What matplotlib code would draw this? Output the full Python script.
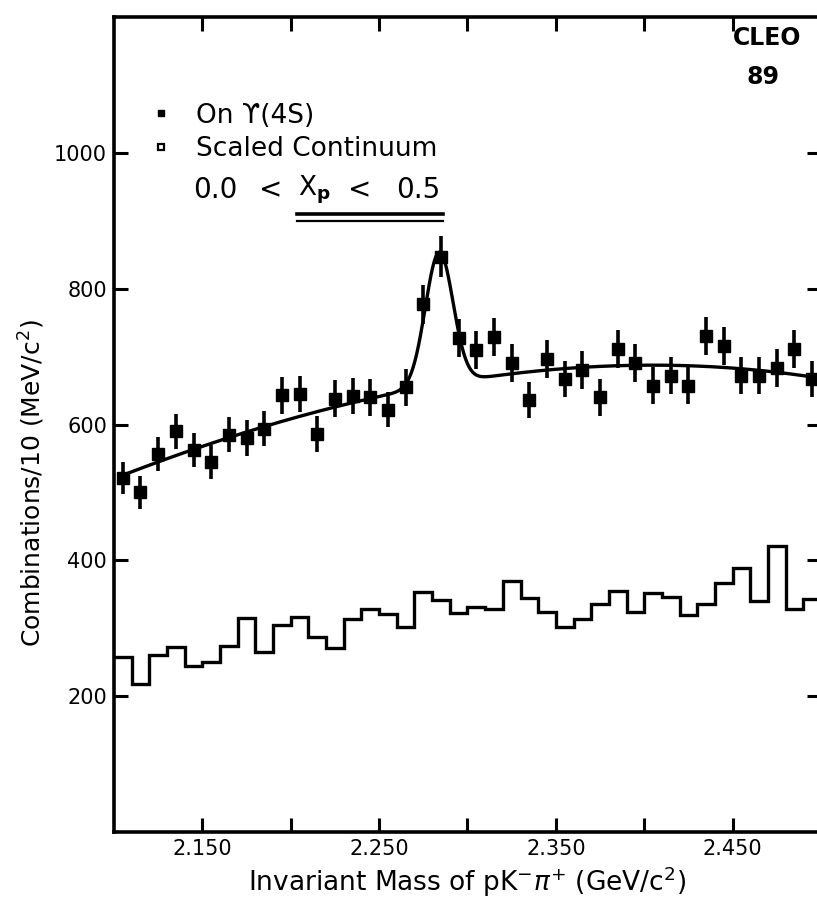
import numpy as np
import matplotlib
matplotlib.use("Agg")
import matplotlib.pyplot as plt
from matplotlib.lines import Line2D

# bin centres (10 MeV bins from 2.10 to 2.50 GeV)
mass = np.round(np.arange(2.105, 2.50, 0.01), 3)
edges = np.round(np.arange(2.10, 2.505, 0.01), 3)

# On Upsilon(4S) data points
on4s = [521, 500, 557, 590, 562, 545, 585, 580, 594, 643,
        645, 586, 638, 642, 640, 622, 655, 777, 847, 727,
        710, 729, 690, 636, 697, 667, 680, 640, 711, 691,
        657, 672, 657, 731, 716, 672, 672, 683, 711, 667]
on4s_err = [24, 24, 25, 26, 25, 25, 26, 26, 26, 27,
            27, 26, 27, 27, 27, 26, 27, 29, 30, 28,
            28, 28, 28, 27, 28, 27, 28, 27, 28, 28,
            27, 27, 27, 28, 28, 27, 27, 28, 28, 27]

# scaled continuum histogram
continuum = [258, 218, 261, 273, 245, 250, 274, 315, 265, 305,
             317, 287, 271, 314, 328, 321, 302, 353, 342, 322,
             332, 328, 370, 345, 324, 302, 313, 335, 355, 324,
             352, 346, 320, 335, 367, 389, 340, 421, 328, 343]

# fit: gaussian peak on a smooth background (background read at a few masses)
bkg_mass = [2.106, 2.149, 2.203, 2.245, 2.310, 2.365, 2.395, 2.440, 2.495]
bkg_level = [528, 565, 607, 643, 670, 683, 688, 683, 671]
peak_mass = 2.284
peak_sigma = 0.0078
peak_amp = 195

bkg_coef = np.polyfit(np.array(bkg_mass) - 2.3, bkg_level, 3)
m_fit = np.linspace(2.105, 2.50, 400)
fit = np.polyval(bkg_coef, m_fit - 2.3) + \
    peak_amp * np.exp(-0.5 * ((m_fit - peak_mass) / peak_sigma) ** 2)

fig = plt.figure(figsize=(8.17, 9.02), dpi=100)
ax = fig.add_axes([0.1395, 0.0776, 0.8654, 0.9035])

ax.stairs(continuum, edges, baseline=None, color='black', linewidth=2.4)
ax.plot(m_fit, fit, color='black', linewidth=2.4)
ax.errorbar(mass, on4s, yerr=on4s_err, fmt='s', color='black',
            markersize=8, elinewidth=2.6, capsize=0)

ax.set_xlim(2.10, 2.50)
ax.set_ylim(0, 1200)

xt = [2.15, 2.20, 2.25, 2.30, 2.35, 2.40, 2.45]
ax.set_xticks(xt)
ax.set_xticklabels(['2.150', '', '2.250', '', '2.350', '', '2.450'])
ax.set_yticks([200, 400, 600, 800, 1000])
ax.tick_params(direction='in', length=10, width=2.2, top=True, right=True,
               labelsize=15, pad=5)
for s in ax.spines.values():
    s.set_linewidth(2.6)

ax.set_xlabel(r"Invariant Mass of pK$^{\mathregular{-}}\pi^{\mathregular{+}}$ (GeV/c$^{\mathregular{2}}$)",
              fontsize=19, labelpad=4)
ax.set_ylabel(r"Combinations/10 (MeV/c$^{\mathregular{2}}$)", fontsize=18)
ax.yaxis.set_label_coords(-0.095, 0.428)

handles = [Line2D([], [], marker='s', color='black', linestyle='none', markersize=5),
           Line2D([], [], marker='s', markerfacecolor='white', markeredgecolor='black',
                  markeredgewidth=1.6, linestyle='none', markersize=5)]
ax.legend(handles, ["On \u03d2(4S)", "Scaled Continuum"], loc='upper left',
          bbox_to_anchor=(0.011, 0.924), frameon=False, fontsize=19,
          handlelength=1.2, handletextpad=0.7, labelspacing=0.29)

# 0.0 < X_p < 0.5 with double underline
ax.text(0.112, 0.788, "0.0", transform=ax.transAxes, fontsize=20,
        va='center', ha='left')
ax.text(0.221, 0.788, "<", transform=ax.transAxes, fontsize=20,
        va='center', ha='center')
ax.text(0.260, 0.788, r"X$_{\mathbf{p}}$", transform=ax.transAxes, fontsize=19,
        va='center', ha='left')
ax.text(0.348, 0.788, "<", transform=ax.transAxes, fontsize=20,
        va='center', ha='center')
ax.text(0.461, 0.788, "0.5", transform=ax.transAxes, fontsize=20,
        va='center', ha='right')
ax.plot([0.259, 0.466], [0.758, 0.758], transform=ax.transAxes, color='black', lw=2.6)
ax.plot([0.259, 0.466], [0.750, 0.750], transform=ax.transAxes, color='black', lw=1.6)

ax.text(0.924, 0.974, "CLEO", transform=ax.transAxes, fontsize=17,
        fontweight='bold', ha='center', va='center')
ax.text(0.918, 0.926, "89", transform=ax.transAxes, fontsize=17,
        fontweight='bold', ha='center', va='center')

fig.savefig("out.png", dpi=100)
